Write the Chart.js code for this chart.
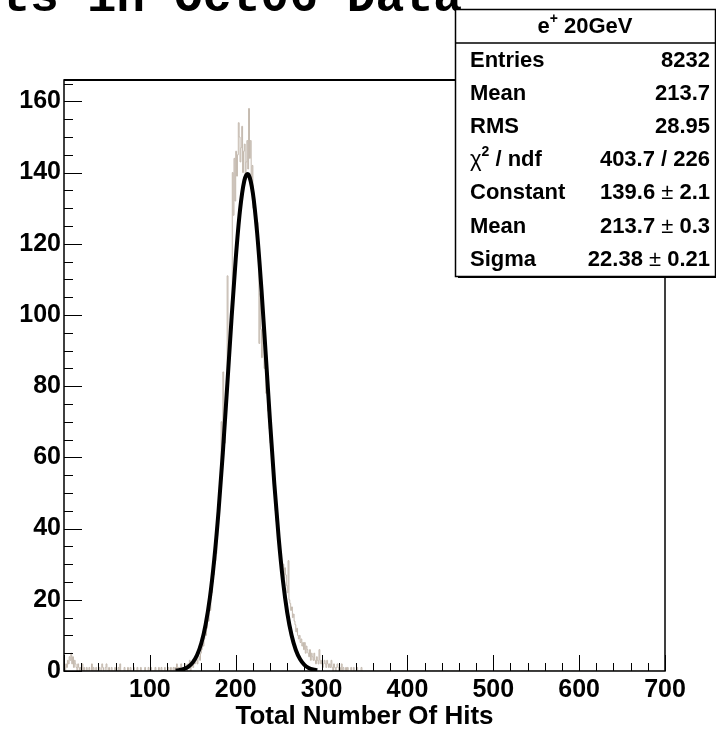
<!DOCTYPE html>
<html><head><meta charset="utf-8">
<script src="https://cdn.jsdelivr.net/npm/chart.js@4.4.0/dist/chart.umd.min.js"></script>
<style>html,body{margin:0;padding:0;background:#fff;overflow:hidden}</style>
</head><body>
<canvas id="c" width="716" height="730"></canvas>
<script>
// ---------------- data ----------------
const titleText = "Hits in Oct06 Data";
const xAxisTitle = "Total Number Of Hits";
const xRange = [0, 700];
const yRange = [0, 166];
const histBinWidth = 1;
// counts per 1-hit bin, starting at 0 (bins above 349 are empty)
const histCounts = [
  0,1,0,2,1,3,2,4,3,5,
  2,4,1,3,2,1,0,2,1,0,
  1,0,2,0,1,0,0,1,0,0,
  1,0,0,2,0,1,0,0,1,0,
  0,0,1,0,0,2,1,0,0,1,
  2,0,0,1,0,0,1,0,0,0,
  1,0,0,0,1,0,2,0,0,0,
  0,1,0,0,0,1,0,0,1,0,
  0,0,1,0,0,0,1,0,0,0,
  1,0,0,0,0,1,0,0,0,1,
  0,0,1,0,0,0,0,1,0,0,
  0,1,0,0,1,0,0,0,1,0,
  0,0,1,0,0,1,0,0,1,0,
  1,0,2,0,1,1,0,2,1,0,
  1,0,2,1,0,2,1,3,0,2,
  2,1,3,2,4,3,2,5,4,3,
  5,6,8,7,9,11,10,12,15,14,
  18,17,21,22,25,27,30,31,33,38,
  41,43,47,51,70,58,84,66,64,72,
  76,111,84,90,95,99,104,140,128,144,
  132,146,139,145,154,150,143,147,153,140,
  146,148,138,143,149,141,158,144,149,136,
  142,130,133,128,127,124,126,118,92,106,
  96,88,100,92,85,90,78,80,73,71,
  68,64,62,60,55,50,53,45,42,40,
  38,36,33,31,29,28,30,26,29,27,
  24,22,31,20,19,17,18,15,16,14,
  13,11,12,10,9,10,8,9,7,8,
  6,8,5,7,6,5,4,6,3,5,
  4,3,5,3,2,4,3,2,6,3,
  2,3,1,2,3,2,1,3,2,1,
  2,1,3,1,0,2,1,0,1,2,
  1,0,1,0,2,0,1,0,0,1,
  0,1,0,0,0,1,0,0,1,0,
  0,0,1,0,0,0,0,1,0,0
];
// Gaussian fit curve
const fitX = [130,135,140,145,150,155,160,165,170,175,180,185,190,195,200,205,210,213.7,215,220,225,230,235,240,245,250,255,260,265,270,275,280,285,290,295];
const fitY = [0.13,0.29,0.62,1.25,2.43,4.48,7.85,13.1,20.7,31.3,44.9,61.3,79.7,98.5,115.7,129.4,137.7,139.6,139.4,134.2,122.9,107.1,88.8,70.0,52.5,37.5,25.4,16.4,10.1,5.9,3.3,1.74,0.87,0.41,0.19];
// stats box
const statsHeader = "e^+ 20GeV";
const statsNames = ["Entries","Mean","RMS","\u03c7^2 / ndf","Constant","Mean","Sigma"];
const statsValues = ["8232","213.7","28.95","403.7 / 226","139.6 \u00b1 2.1","213.7 \u00b1 0.3","22.38 \u00b1 0.21"];

// ---------------- build ----------------
const FAM = '"Liberation Sans", Arial, Helvetica, sans-serif';
const histPoints = [];
const nBins = Math.round((xRange[1]-xRange[0])/histBinWidth);
for (let i = 0; i < nBins; i++) {
  histPoints.push({x: xRange[0] + i*histBinWidth, y: i < histCounts.length ? histCounts[i] : 0});
}
histPoints.push({x: xRange[1], y: 0});
const fitPoints = fitX.map((x, i) => ({x, y: fitY[i]}));

const frameTicks = {
  id: 'frameTicks',
  afterDatasetsDraw(chart) {
    const {ctx, chartArea: a, scales: {x, y}} = chart;
    ctx.save();
    ctx.strokeStyle = '#000';
    ctx.lineWidth = 1;
    ctx.beginPath();
    const xt = x.ticks.map(t => t.value);
    const xStep = xt[1] - xt[0];
    for (let v = xRange[0]; v <= xRange[1] + 1e-6; v += xStep/5) {
      const px = Math.round(x.getPixelForValue(v)) + 0.5;
      const major = Math.abs((v / xStep) - Math.round(v / xStep)) < 1e-6;
      const len = major ? 16 : 8;
      ctx.moveTo(px, a.bottom); ctx.lineTo(px, a.bottom - len);
    }
    const yt = y.ticks.map(t => t.value);
    const yStep = yt[1] - yt[0];
    for (let v = yRange[0]; v <= yRange[1] + 1e-6; v += yStep/4) {
      const py = Math.round(y.getPixelForValue(v)) + 0.5;
      const major = Math.abs((v / yStep) - Math.round(v / yStep)) < 1e-6;
      const len = major ? 18 : 9;
      ctx.moveTo(a.left, py); ctx.lineTo(a.left + len, py);
    }
    ctx.stroke();
    ctx.lineWidth = 1.5;
    ctx.strokeRect(a.left, a.top, a.right - a.left, a.bottom - a.top);
    ctx.lineWidth = 2;
    ctx.beginPath(); ctx.moveTo(a.left, a.top); ctx.lineTo(a.right, a.top); ctx.stroke();
    ctx.restore();
  },
  afterDraw(chart) {
    const ctx = chart.ctx;
    ctx.save();
    // page title (cut off at top)
    ctx.fillStyle = '#000';
    ctx.font = 'bold 48px "Liberation Mono", "DejaVu Sans Mono", monospace';
    ctx.textAlign = 'right';
    ctx.textBaseline = 'alphabetic';
    ctx.fillText(titleText, 462, 11);

    // stats box
    const bx = 455, by = 9, bw = 260, bh = 267;
    ctx.fillStyle = '#000';
    ctx.fillRect(bx + 3, by + bh, bw, 2);
    ctx.fillStyle = '#fff';
    ctx.fillRect(bx, by, bw, bh);
    ctx.strokeStyle = '#000';
    ctx.lineWidth = 1.5;
    ctx.strokeRect(bx + 0.5, by + 0.5, bw, bh);
    ctx.beginPath(); ctx.moveTo(bx, 43); ctx.lineTo(bx + bw, 43); ctx.stroke();

    const bold = 'bold 22px ' + FAM;
    const supF = 'bold 14px ' + FAM;
    const plain = '22px ' + FAM;
    function segsOf(str) {
      const segs = [];
      const m = str.indexOf('^');
      if (m >= 0) {
        const head = str.slice(0, m);
        segs.push([head, head === '\u03c7' ? plain : bold, 0]);
        segs.push([str[m+1], supF, -8]);
        segs.push([str.slice(m+2), bold, 0]);
      } else if (str.indexOf(' \u00b1 ') >= 0) {
        const p = str.split(' \u00b1 ');
        segs.push([p[0], bold, 0]);
        segs.push([' \u00b1 ', plain, 0]);
        segs.push([p[1], bold, 0]);
      } else segs.push([str, bold, 0]);
      return segs;
    }
    function width(segs) {
      let w = 0;
      segs.forEach(s => { ctx.font = s[1]; w += ctx.measureText(s[0]).width; });
      return w;
    }
    function drawSegs(segs, x, y) {
      segs.forEach(s => { ctx.font = s[1]; ctx.fillText(s[0], x, y + s[2]); x += ctx.measureText(s[0]).width; });
    }
    ctx.fillStyle = '#000';
    ctx.textAlign = 'left';
    ctx.textBaseline = 'middle';
    const hs = segsOf(statsHeader);
    drawSegs(hs, bx + bw/2 - width(hs)/2, 27);
    const rowY0 = 61, rowH = 33.1;
    for (let i = 0; i < statsNames.length; i++) {
      const yy = rowY0 + i*rowH;
      drawSegs(segsOf(statsNames[i]), 470, yy);
      const vs = segsOf(statsValues[i]);
      drawSegs(vs, 710 - width(vs), yy);
    }
    ctx.restore();
  }
};

new Chart(document.getElementById('c'), {
  type: 'line',
  data: {
    datasets: [
      {label: 'fit', data: fitPoints, borderColor: '#000', borderWidth: 4, pointRadius: 0,
       cubicInterpolationMode: 'monotone', fill: false, order: 0},
      {label: 'hist', data: histPoints, borderColor: '#c3b8ad', borderWidth: 1, pointRadius: 0,
       stepped: 'after', fill: false, order: 1}
    ]
  },
  options: {
    responsive: false,
    animation: false,
    events: [],
    layout: {padding: {left: 0, right: 51, top: 80, bottom: 0}},
    plugins: {legend: {display: false}, tooltip: {enabled: false}, title: {display: false}},
    scales: {
      x: {
        type: 'linear', min: xRange[0], max: xRange[1],
        grid: {display: false, drawTicks: false}, border: {display: false},
        ticks: {stepSize: 100, maxRotation: 0, autoSkip: false, padding: 4, color: '#000',
          font: {family: FAM, size: 25, weight: 'bold'},
          callback: v => (v === 0 ? '' : String(v))},
        title: {display: true, text: xAxisTitle, color: '#000', padding: {top: 0, bottom: 0},
          font: {family: FAM, size: 26, weight: 'bold', lineHeight: 1}},
        afterFit: s => { s.height = 59; }
      },
      y: {
        type: 'linear', min: yRange[0], max: yRange[1],
        grid: {display: false, drawTicks: false}, border: {display: false},
        ticks: {stepSize: 20, includeBounds: false, padding: 3, color: '#000',
          font: {family: FAM, size: 25, weight: 'bold'},
          callback: v => (v % 20 === 0 ? String(v) : '')},
        afterFit: s => { s.width = 64; }
      }
    }
  },
  plugins: [frameTicks]
});
</script>
</body></html>
